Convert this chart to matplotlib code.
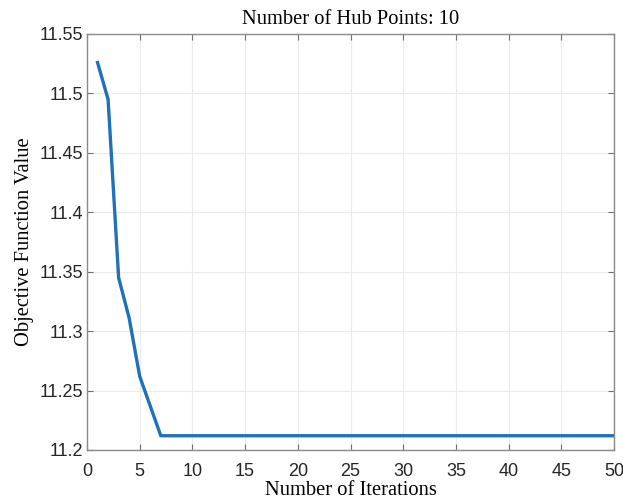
import numpy as np
import matplotlib
matplotlib.use("Agg")
import matplotlib.pyplot as plt

# objective value per iteration
iterations = np.arange(1, 51)
first_values = [11.526, 11.495, 11.345, 11.311, 11.262, 11.237, 11.212]
objective = np.array(first_values + [11.212] * (50 - len(first_values)))

x_ticks = np.arange(0, 51, 5)
y_ticks = [11.2, 11.25, 11.3, 11.35, 11.4, 11.45, 11.5, 11.55]
y_tick_labels = ["11.2", "11.25", "11.3", "11.35", "11.4", "11.45", "11.5", "11.55"]

serif = "Liberation Serif"
sans = "Liberation Sans"

fig = plt.figure(figsize=(6.23, 5.04), dpi=100)
ax = fig.add_axes([87 / 623, 1 - 450 / 504, 527 / 623, 416 / 504])

ax.plot(iterations, objective, color="#1f72b5", linewidth=2.4)

ax.set_xlim(0, 50)
ax.set_ylim(11.2, 11.55)
ax.set_xticks(x_ticks)
ax.set_yticks(y_ticks)
ax.set_yticklabels(y_tick_labels)
for lab in ax.get_xticklabels() + ax.get_yticklabels():
    lab.set_fontfamily(sans)
    lab.set_fontsize(13)
    lab.set_color("#262626")

ax.tick_params(direction="in", length=4, color="#707070", top=True, right=True,
               labeltop=False, labelright=False, pad=3)
ax.tick_params(axis="x", pad=9)
ax.grid(True, color="#ebebeb", linewidth=0.8)
ax.set_axisbelow(True)
for s in ax.spines.values():
    s.set_color("#8a8a8a")
    s.set_linewidth(1.0)

ax.set_title("Number of Hub Points: 10", fontfamily=serif, fontsize=14.8, pad=7.5)
ax.set_xlabel("Number of Iterations", fontfamily=serif, fontsize=14.8, labelpad=1)
ax.set_ylabel("Objective Function Value", fontfamily=serif, fontsize=14.8, labelpad=4)

fig.savefig("out.png", dpi=100)
